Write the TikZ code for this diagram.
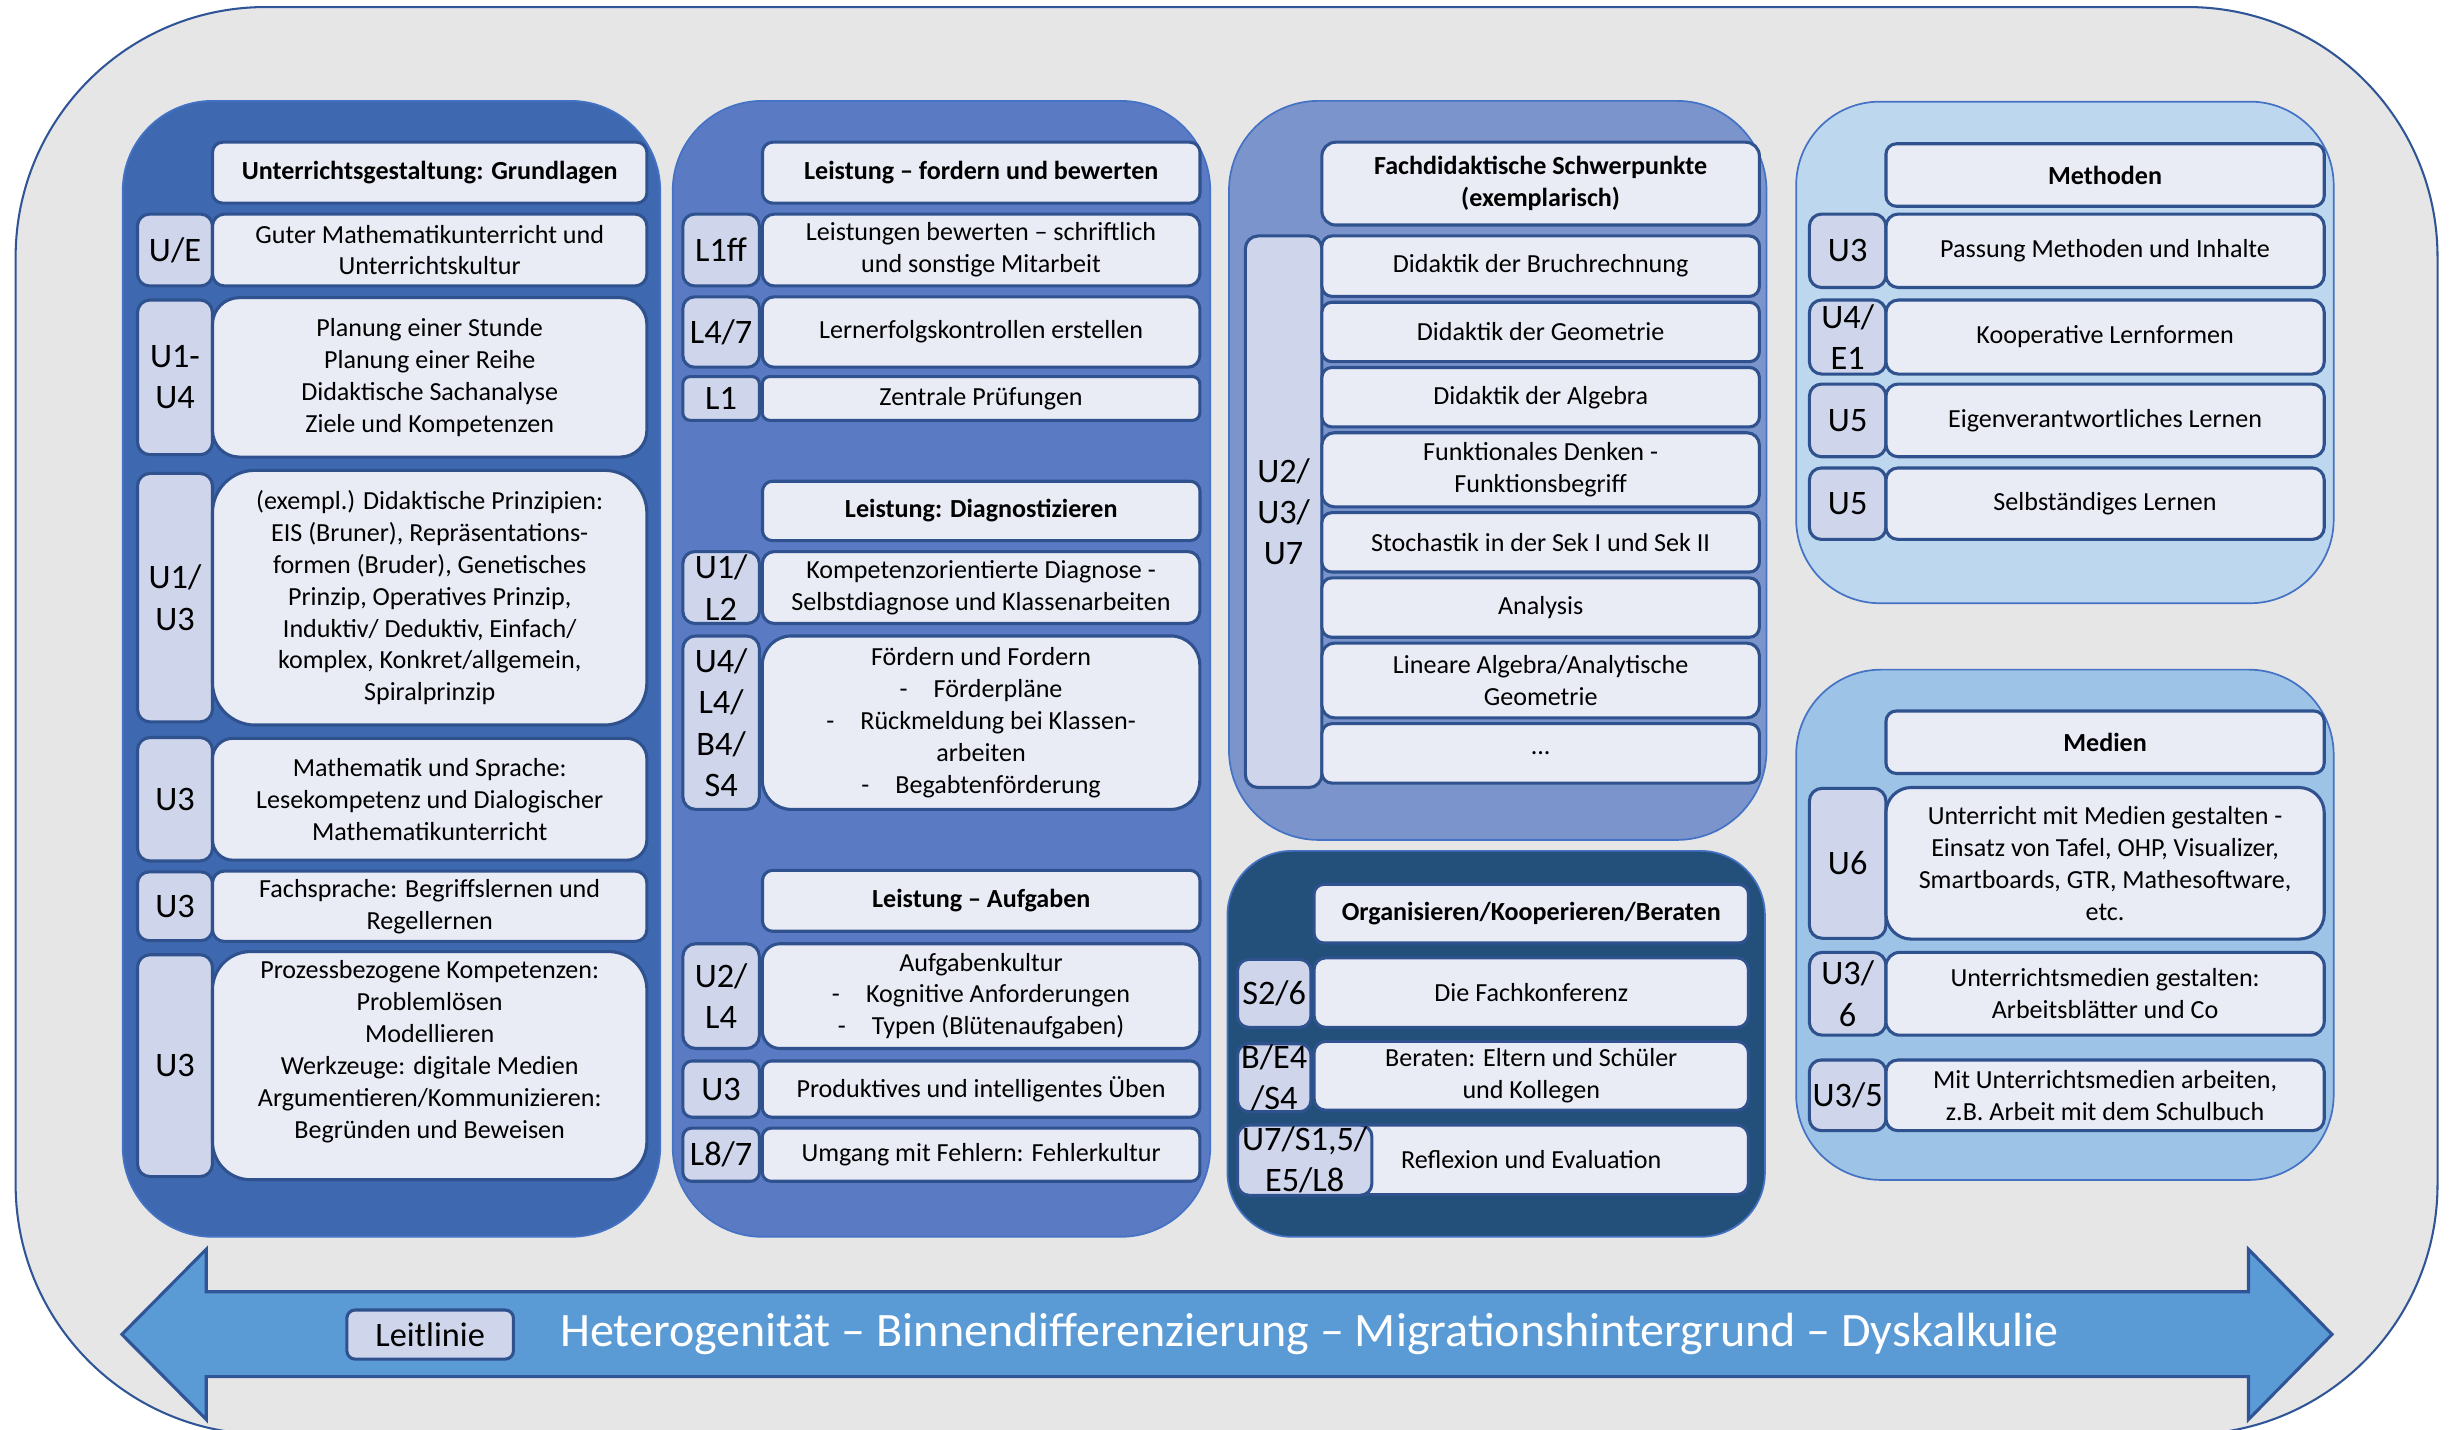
\documentclass[tikz,border=0pt]{standalone}
\usepackage{fontspec}
\setmainfont{Carlito}
\usetikzlibrary{positioning}
\definecolor{bggray}{HTML}{E6E6E6}
\definecolor{frameline}{HTML}{2F5597}
\definecolor{colA}{HTML}{3E69B1}
\definecolor{colB}{HTML}{5A7BC4}
\definecolor{colC}{HTML}{7B95CC}
\definecolor{colD}{HTML}{234F7B}
\definecolor{colE}{HTML}{BDD7EE}
\definecolor{colF}{HTML}{9DC3E6}
\definecolor{colline}{HTML}{4472C4}
\definecolor{cellline}{HTML}{2F528F}
\definecolor{cellfill}{HTML}{E9EBF5}
\definecolor{lblfill}{HTML}{CFD5EA}
\definecolor{arrowfill}{HTML}{5B9BD5}
\begin{document}
\begin{tikzpicture}[x=0.016cm, y=-0.016cm,
		sz/.style 2 args={minimum width=#1*0.016cm, minimum height=#2*0.016cm, rounded corners={min(#1,#2)*0.00267cm}},
		col/.style={draw=colline, line width=0.5pt, anchor=north west, inner sep=0pt},
		cell/.style={draw=cellline, line width=0.9pt, fill=cellfill, anchor=north west, inner sep=0pt, outer sep=0pt, align=center, font=\fontsize{7.6}{9.3}\selectfont},
		hd/.style={cell, font=\fontsize{7.6}{9.3}\selectfont\bfseries},
		lbl/.style={cell, fill=lblfill, font=\fontsize{10}{12}\selectfont}]
						\useasboundingbox (0,0) rectangle (1568,915);
						\fill[white] (0,0) rectangle (1568,915);
						\draw[frameline, fill=bggray, line width=0.6pt, rounded corners=160*0.016cm] (10,4.5) rectangle (1560,918);

						\node[col, fill=colA, sz={344}{727}] (grund) at (78,64) {};
						\node[hd, sz={278}{39}] (grund-h) at (136,91) {Unterrichtsgestaltung: Grundlagen};
						\node[lbl, sz={48}{46}] (ue) at (88,137) {U/E};
						\node[cell, sz={278}{46}, right=0pt of ue] (ue-t) {Guter Mathematikunterricht und\\Unterrichtskultur};
						\node[lbl, sz={48}{99}] (u14) at (88,192) {U1-\\U4};
						\node[cell, sz={278}{102}, right=0pt of u14] (u14-t) {Planung einer Stunde\\Planung einer Reihe\\Didaktische Sachanalyse\\Ziele und Kompetenzen};
						\node[lbl, sz={48}{159}] (u13) at (88,303) {U1/\\U3};
						\node[cell, sz={278}{163}, right=0pt of u13] (u13-t) {(exempl.) Didaktische Prinzipien:\\EIS (Bruner), Repräsentations-\\formen (Bruder), Genetisches\\Prinzip, Operatives Prinzip,\\Induktiv/ Deduktiv, Einfach/\\komplex, Konkret/allgemein,\\Spiralprinzip};
						\node[lbl, sz={48}{79}] (u3a) at (88,472) {U3};
						\node[cell, sz={278}{78}, right=0pt of u3a] (u3a-t) {Mathematik und Sprache:\\Lesekompetenz und Dialogischer\\Mathematikunterricht};
						\node[lbl, sz={48}{44}] (u3b) at (88,558) {U3};
						\node[cell, sz={278}{45}, right=0pt of u3b] (u3b-t) {Fachsprache: Begriffslernen und\\Regellernen};
						\node[lbl, sz={48}{142}] (u3c) at (88,611) {U3};
						\node[cell, sz={278}{146}, right=0pt of u3c] (u3c-t) {Prozessbezogene Kompetenzen:\\Problemlösen\\Modellieren\\Werkzeuge: digitale Medien\\Argumentieren/Kommunizieren:\\Begründen und Beweisen\\ \mbox{}};

						\node[col, fill=colB, sz={344}{727}] (leist) at (430,64) {};
						\node[hd, sz={280}{39}] (leist-h) at (488,91) {Leistung – fordern und bewerten};
						\node[lbl, sz={49}{46}] (l1ff) at (437,137) {L1ff};
						\node[cell, sz={280}{46}, right=0.03cm of l1ff] (l1ff-t) {Leistungen bewerten – schriftlich\\und sonstige Mitarbeit};
						\node[lbl, sz={49}{45}] (l47) at (437,190) {L4/7};
						\node[cell, sz={280}{45}, right=0.03cm of l47] (l47-t) {Lernerfolgskontrollen erstellen};
						\node[lbl, sz={49}{28}] (l1) at (437,241) {L1};
						\node[cell, sz={280}{28}, right=0.03cm of l1] (l1-t) {Zentrale Prüfungen};
						\node[hd, sz={280}{38}] (diag-h) at (488,308) {Leistung: Diagnostizieren};
						\node[lbl, sz={49}{46}] (u1l2) at (437,353) {U1/\\L2};
						\node[cell, sz={280}{46}, right=0.03cm of u1l2] (u1l2-t) {Kompetenzorientierte Diagnose -\\Selbstdiagnose und Klassenarbeiten};
						\node[lbl, sz={49}{111}] (u4s4) at (437,407) {U4/\\L4/\\B4/\\S4};
						\node[cell, sz={280}{111}, right=0.03cm of u4s4] (u4s4-t) {Fördern und Fordern\\-\hspace{1em}Förderpläne\\-\hspace{1em}Rückmeldung bei Klassen-\\arbeiten\\-\hspace{1em}Begabtenförderung};
						\node[hd, sz={280}{39}] (aufg-h) at (488,557) {Leistung – Aufgaben};
						\node[lbl, sz={49}{67}] (u2l4) at (437,604) {U2/\\L4};
						\node[cell, sz={280}{67}, right=0.03cm of u2l4] (u2l4-t) {Aufgabenkultur\\-\hspace{1em}Kognitive Anforderungen\\-\hspace{1em}Typen (Blütenaufgaben)};
						\node[lbl, sz={49}{36}] (u3d) at (437,679) {U3};
						\node[cell, sz={280}{36}, right=0.03cm of u3d] (u3d-t) {Produktives und intelligentes Üben};
						\node[lbl, sz={49}{34}] (l87) at (437,722) {L8/7};
						\node[cell, sz={280}{34}, right=0.03cm of l87] (l87-t) {Umgang mit Fehlern: Fehlerkultur};

						\node[col, fill=colC, sz={344}{473}] (fach) at (786,64) {};
						\node[hd, sz={280}{53}] (fach-h) at (846,91) {Fachdidaktische Schwerpunkte\\(exemplarisch)};
						\node[lbl, sz={49}{353}] (u237) at (797,151) {U2/\\U3/\\U7};
						\node[cell, sz={280}{38.7}] (bruch) at (846,151) {Didaktik der Bruchrechnung};
						\node[cell, sz={280}{38}, below=0.06cm of bruch] (geo) {Didaktik der Geometrie};
						\node[cell, sz={280}{38}, below=0.06cm of geo] (alg) {Didaktik der Algebra};
						\node[cell, sz={280}{47.4}, below=0.06cm of alg] (funk) {Funktionales Denken -\\Funktionsbegriff};
						\node[cell, sz={280}{38}, below=0.06cm of funk] (stoch) {Stochastik in der Sek I und Sek II};
						\node[cell, sz={280}{38}, below=0.06cm of stoch] (ana) {Analysis};
						\node[cell, sz={280}{47.8}, below=0.06cm of ana] (linalg) {Lineare Algebra/Analytische\\Geometrie};
						\node[cell, sz={280}{38}, below=0.06cm of linalg] (etc) {...};

						\node[col, fill=colD, sz={344}{247}] (orga) at (785,544) {};
						\node[hd, sz={278}{37.5}] (orga-h) at (841,566) {Organisieren/Kooperieren/Beraten};
						\node[cell, sz={278}{44.5}] (konf-t) at (841,613) {Die Fachkonferenz};
						\node[cell, sz={278}{44}] (berat-t) at (841,666.5) {Beraten: Eltern und Schüler\\und Kollegen};
						\node[cell, sz={278}{44.5}] (refl-t) at (841,720) {Reflexion und Evaluation};
						\node[lbl, sz={47}{43.5}] (s26) at (792,614) {S2/6};
						\node[lbl, sz={47}{43.5}] (be4) at (792,668) {B/E4\\/S4};
						\node[lbl, sz={86}{45}] (u7l8) at (792,720) {U7/S1,5/\\E5/L8};

						\node[col, fill=colE, sz={344}{321}] (meth) at (1149,64.5) {};
						\node[hd, sz={280.5}{40}] (meth-h) at (1207,92) {Methoden};
						\node[lbl, sz={49}{47}] (m1) at (1158,137) {U3};
						\node[cell, sz={280.5}{47}, right=0pt of m1] (m1-t) {Passung Methoden und Inhalte};
						\node[lbl, sz={49}{47.4}] (m2) at (1158,192) {U4/\\E1};
						\node[cell, sz={280.5}{47.4}, right=0pt of m2] (m2-t) {Kooperative Lernformen};
						\node[lbl, sz={49}{46.5}] (m3) at (1158,245.8) {U5};
						\node[cell, sz={280.5}{46.5}, right=0pt of m3] (m3-t) {Eigenverantwortliches Lernen};
						\node[lbl, sz={49}{45.7}] (m4) at (1158,299.5) {U5};
						\node[cell, sz={280.5}{45.7}, right=0pt of m4] (m4-t) {Selbständiges Lernen};

						\node[col, fill=colF, sz={344}{326.6}] (med) at (1149,428) {};
						\node[hd, sz={280.5}{40}] (med-h) at (1207,455) {Medien};
						\node[lbl, sz={49}{96}] (u6) at (1158,504.5) {U6};
						\node[cell, sz={280.5}{97}, right=0pt of u6] (u6-t) {Unterricht mit Medien gestalten -\\Einsatz von Tafel, OHP, Visualizer,\\Smartboards, GTR, Mathesoftware,\\etc.};
						\node[lbl, sz={49}{53}] (u36) at (1158,609.5) {U3/\\6};
						\node[cell, sz={280.5}{53}, right=0pt of u36] (u36-t) {Unterrichtsmedien gestalten:\\Arbeitsblätter und Co};
						\node[lbl, sz={49}{45.2}] (u35) at (1158,678.4) {U3/5};
						\node[cell, sz={280.5}{45.2}, right=0pt of u35] (u35-t) {Mit Unterrichtsmedien arbeiten,\\z.B. Arbeit mit dem Schulbuch};

						\draw[frameline, fill=arrowfill, line width=0.9pt] (78,854) -- (132,799.5) -- (132,826.7) -- (1439,826.7) -- (1439,799.5) -- (1492.5,854) -- (1439,908.5) -- (1439,881) -- (132,881) -- (132,908.5) -- cycle;
						\node[lbl, sz={106.6}{31.4}] (leit) at (222,838.4) {Leitlinie};
						\node[white, font=\fontsize{14}{17}\selectfont] (hetero) at (838,854) {Heterogenität – Binnendifferenzierung – Migrationshintergrund – Dyskalkulie};
					\end{tikzpicture}
\end{document}
